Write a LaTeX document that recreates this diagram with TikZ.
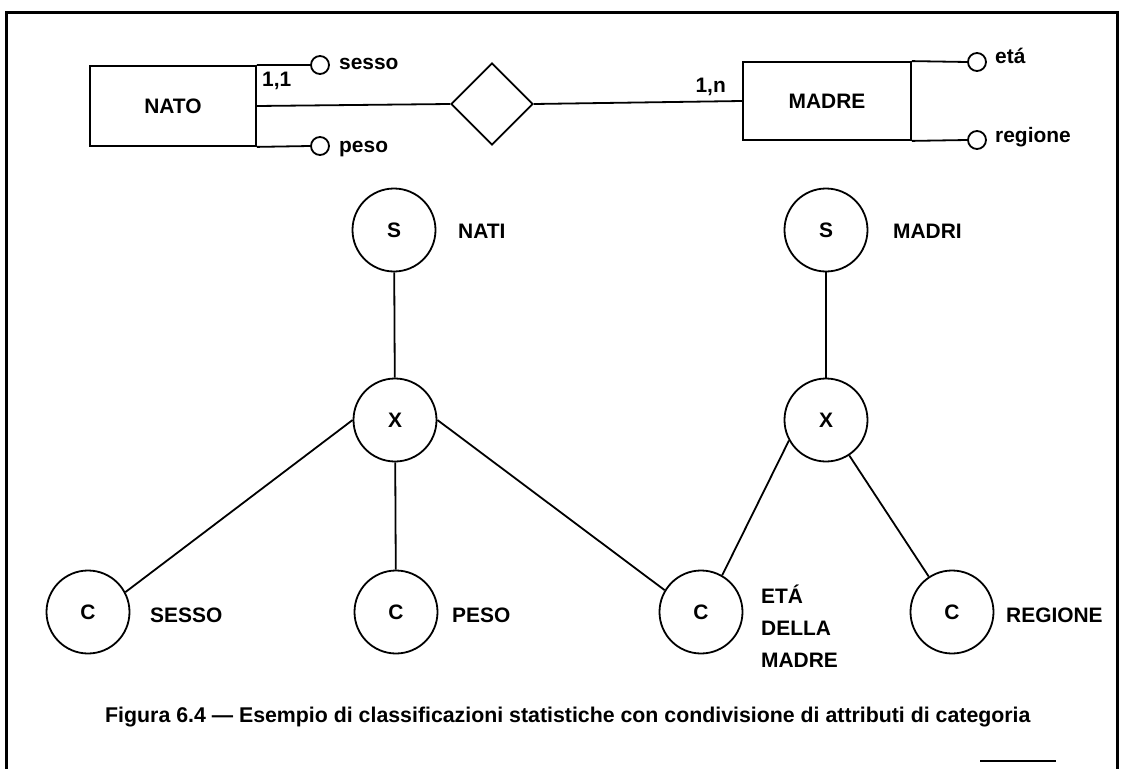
\documentclass[tikz,border=0pt]{standalone}
\usepackage{fontspec}
\setmainfont{Liberation Sans}
\usetikzlibrary{shapes.geometric}
\begin{document}
\begin{tikzpicture}[x=1bp,y=-1bp,
  every node/.style={font=\bfseries\fontsize{21}{25}\selectfont},
  ent/.style={draw, line width=1.8bp, minimum width=166bp, minimum height=80bp, inner sep=0pt},
  relship/.style={draw, diamond, aspect=1, minimum size=82bp, inner sep=0pt, line width=1.8bp},
  attr/.style={draw, circle, minimum size=18bp, inner sep=0pt, line width=1.8bp},
  op/.style={draw, circle, minimum size=83bp, inner sep=0pt, line width=1.8bp},
  lab/.style={anchor=base west, inner sep=0pt},
  link/.style={line width=1.8bp},
  frame/.style={line width=3bp}]
\useasboundingbox (0,0) rectangle (1124,769);

% outer frame (open at the bottom)
\draw[frame] (6.5,769) -- (6.5,12.5) -- (1117,12.5) -- (1117,769);
\draw[link] (980,761) -- (1056,761);

% --- E-R schema ---
\node[ent] (nato) at (173,106) {\raisebox{-1bp}{NATO}};
\node[relship] (rel) at (492,104) {};
\node[ent, minimum width=168bp, minimum height=78bp] (madre) at (827,101) {MADRE};

\node[attr] (asesso) at (320,65) {};
\node[attr] (apeso) at (320,146) {};
\node[attr] (aeta) at (977,62) {};
\node[attr] (aregione) at (977,140) {};

\node[lab] (tsesso) at (339,70) {sesso};
\node[lab] (tpeso) at (339,152) {peso};
\node[lab] (teta) at (995,64) {etá};
\node[lab] (tregione) at (995,142) {regione};

\draw[link] (nato.north east) -- (asesso.west);
\draw[link] (nato.south east) -- (apeso.west);
\draw[link] (madre.north east) -- (aeta.west);
\draw[link] (madre.south east) -- (aregione.west);
\draw[link] (nato.east) -- (rel.west);
\draw[link] (rel.east) -- (madre.west);

\node[lab] (c11) at (262,87) {1,1};
\node[anchor=base east, inner sep=0pt] (c1n) at (726,93) {1,n};

% --- statistical classifications ---
\node[op] (s1) at (394,230) {S};
\node[op] (s2) at (826,230) {S};
\node[op] (x1) at (395,420) {X};
\node[op] (x2) at (826,420) {X};
\node[op] (c1) at (88,612) {C};
\node[op] (c2) at (396,612) {C};
\node[op] (c3) at (701,612) {C};
\node[op] (c4) at (952,612) {C};

\node[lab] (tnati) at (458,238) {NATI};
\node[lab] (tmadri) at (893,238) {MADRI};
\node[lab] (tsx) at (150,622) {SESSO};
\node[lab] (tps) at (452,622) {PESO};
\node[lab] (tem1) at (761,603) {ETÁ};
\node[lab] (tem2) at (761,635) {DELLA};
\node[lab] (tem3) at (761,667) {MADRE};
\node[lab] (trg) at (1006,622) {REGIONE};

\draw[link] (s1) -- (x1);
\draw[link] (s2) -- (x2);
\draw[link] (x1.west) -- (c1.28);
\draw[link] (x1) -- (c2);
\draw[link] (x1.east) -- (c3.149);
\draw[link] (x2.209) -- (c3.60);
\draw[link] (x2) -- (c4);

% caption
\node[lab, font=\bfseries\fontsize{21.4}{25}\selectfont] (cap) at (105,722)
  {Figura 6.4 — Esempio di classificazioni statistiche con condivisione di attributi di categoria};
\end{tikzpicture}
\end{document}
